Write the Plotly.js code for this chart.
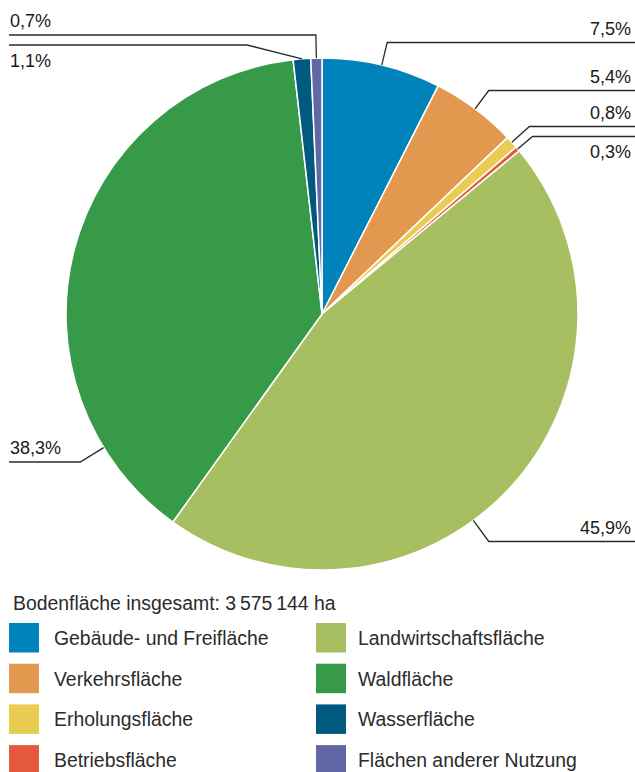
<!DOCTYPE html>
<html><head><meta charset="utf-8">
<script src="https://cdn.plot.ly/plotly-3.0.1.min.js"></script>
<style>html,body{margin:0;padding:0;background:#fff;overflow:hidden}</style>
</head><body><div id="chart" style="width:635px;height:772px"></div>
<script>
// ---- data ----
const categories = ["Gebäude- und Freifläche","Verkehrsfläche","Erholungsfläche","Betriebsfläche","Landwirtschaftsfläche","Waldfläche","Wasserfläche","Flächen anderer Nutzung"];
const shares = [7.5, 5.4, 0.8, 0.3, 45.9, 38.3, 1.1, 0.7];
const shareLabels = ["7,5%","5,4%","0,8%","0,3%","45,9%","38,3%","1,1%","0,7%"];
const colors = ["#0083bb","#e2994f","#e8cd52","#e45a3f","#a7bf60","#369a48","#005a80","#6268a6"];
const totalLabel = "Bodenfläche insgesamt: 3\u2009575\u2009144 ha";

// ---- layout helpers (pixels) ----
const W = 635, H = 772, CX = 322, CY = 314, R = 256;
const px = x => x / W, py = y => 1 - y / H;
const FONT = "Liberation Sans, Arial, Helvetica, sans-serif";
const leader = [
  {side:'right', lineY:42.5,  text:'above', frac:0.5},
  {side:'right', lineY:90.5,  text:'above', frac:0.5},
  {side:'right', lineY:126.5, text:'above', frac:0.5},
  {side:'right', lineY:136.5, text:'below', frac:0.5},
  {side:'right', lineY:541.5, text:'above', frac:0.565},
  {side:'left',  lineY:462,   text:'above', frac:0.166},
  {side:'left',  lineY:45,    text:'below', frac:0.5, elbowX:247},
  {side:'left',  lineY:35,    text:'above', frac:0.5}
];

const total = shares.reduce((a,b)=>a+b,0);
const shapes = [], annotations = [];
let cum = 0;
shares.forEach((v,i)=>{
  const L = leader[i];
  const th = (cum + L.frac*v)/total * 2*Math.PI;
  cum += v;
  const s = Math.sin(th), c = Math.cos(th);
  const ax = CX + R*s, ay = CY - R*c;
  let ex;
  if (L.elbowX !== undefined) ex = L.elbowX;
  else { const t = (L.lineY - ay)/(-c); ex = ax + t*s; }
  const endX = L.side === 'right' ? W : 9;
  shapes.push({type:'path', xref:'paper', yref:'paper',
    path:`M ${px(ax)},${py(ay)} L ${px(ex)},${py(L.lineY)} L ${px(endX)},${py(L.lineY)}`,
    line:{color:'#2a2a2a', width:1.3}});
  const ty = L.text === 'above' ? L.lineY - 13.5 : L.lineY + 15.5;
  annotations.push({xref:'paper', yref:'paper', showarrow:false,
    x: L.side==='right' ? px(633) : px(8), xanchor: L.side==='right' ? 'right':'left',
    y: py(ty), yanchor:'middle', text: shareLabels[i],
    font:{family:FONT, size:18, color:'#1a1a1a'}});
});

// legend
annotations.push({xref:'paper', yref:'paper', showarrow:false, x:px(11), xanchor:'left',
  y:py(603), yanchor:'middle', text: totalLabel, font:{family:FONT, size:19.4, color:'#2b2b2b'}});
categories.forEach((name,i)=>{
  const col = i < 4 ? 0 : 1, row = i % 4;
  const x0 = col ? 316 : 9, top = 623 + row*40.7;
  shapes.push({type:'rect', xref:'paper', yref:'paper', x0:px(x0), x1:px(x0+30),
    y0:py(top), y1:py(top+29.5), fillcolor:colors[i], line:{width:0}});
  annotations.push({xref:'paper', yref:'paper', showarrow:false,
    x:px(col ? 356 : 52), xanchor:'left', y:py(top+15), yanchor:'middle',
    text:name, font:{family:FONT, size:19.4, color:'#2b2b2b'}});
});

const trace = {
  type:'pie', values:shares, labels:categories, sort:false, direction:'clockwise', rotation:0,
  marker:{colors:colors, line:{color:'#ffffff', width:1.5}},
  textinfo:'none', hoverinfo:'skip', showlegend:false,
  domain:{x:[px(CX-R), px(CX+R)], y:[py(CY+R), py(CY-R)]}
};
Plotly.newPlot('chart', [trace], {
  width:W, height:H, margin:{l:0,r:0,t:0,b:0}, paper_bgcolor:'#fff', plot_bgcolor:'#fff',
  showlegend:false, shapes:shapes, annotations:annotations
}, {staticPlot:true});
</script></body></html>
